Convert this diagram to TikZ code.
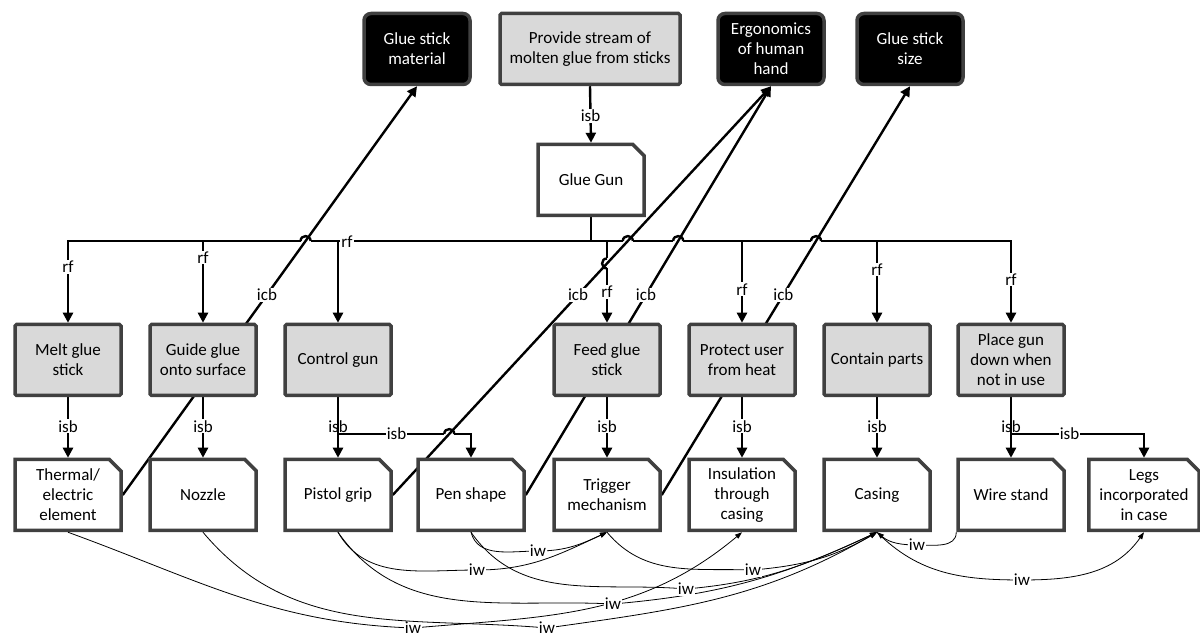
\documentclass[tikz,border=0pt]{standalone}
\usepackage{fontspec}
\setmainfont{Carlito}
\usetikzlibrary{arrows.meta,shapes.misc,backgrounds}
\definecolor{rahmen}{RGB}{64,64,64}
\definecolor{funktion}{RGB}{217,217,217}

\newcommand{\hoph}[1]{% Sprung auf waagrechter Linie
  \begin{scope}[shift={(#1)}]
    \fill[white] (-5,-2) rectangle (5,2);
    \draw[line width=2.4pt] (-5,0) .. controls (-5,6.5) and (5,6.5) .. (5,0);
  \end{scope}}
\newcommand{\hopv}[1]{% Sprung auf senkrechter Linie
  \begin{scope}[shift={(#1)}]
    \fill[white] (-2,-5) rectangle (2,5);
    \draw[line width=2.4pt] (0,5) .. controls (-6.5,5) and (-6.5,-5) .. (0,-5);
  \end{scope}}

\begin{document}
\begin{tikzpicture}[x=1pt, y=1pt,
    schrift/.style={font=\fontsize{17}{20}\selectfont},
    funkbox/.style={schrift, rectangle, draw=rahmen, fill=funktion, line width=3.5pt,
      rounded corners=1.5pt, minimum width=106pt, minimum height=71pt, align=center, inner sep=2pt},
    loesbox/.style={schrift, chamfered rectangle, chamfered rectangle corners=north east,
      chamfered rectangle xsep=8.5pt, draw=rahmen, fill=white, line width=3.5pt,
      minimum width=106pt, minimum height=71pt, align=center, inner sep=2pt},
    randbox/.style={schrift, rectangle, draw=rahmen, fill=black, text=white, line width=3.5pt,
      rounded corners=7pt, minimum width=106pt, minimum height=71pt, align=center, inner sep=2pt},
    etikett/.style={schrift, fill=white, inner sep=1pt},
    dick/.style={line width=2.4pt, -{Triangle[length=10pt,width=10pt]}},
    duenn/.style={line width=0.8pt, -{Triangle[length=7pt,width=5pt]}}]

\useasboundingbox (0,0) rectangle (1200,637);

% obere Reihe
\node[randbox] (mat) at (417,588) {Glue stick\\material};
\node[funkbox, minimum width=180pt] (prov) at (590,588) {Provide stream of\\molten glue from sticks};
\node[randbox] (ergo) at (771,588) {Ergonomics\\of human\\hand};
\node[randbox] (size) at (910,588) {Glue stick\\size};
\node[loesbox] (gun) at (591,457) {Glue Gun};

% Funktionen
\node[funkbox] (melt) at (68,277) {Melt glue\\stick};
\node[funkbox] (guide) at (203,277) {Guide glue\\onto surface};
\node[funkbox] (ctrl) at (338,277) {Control gun};
\node[funkbox] (feed) at (607,277) {Feed glue\\stick};
\node[funkbox] (prot) at (742,277) {Protect user\\from heat};
\node[funkbox] (cont) at (877,277) {Contain parts};
\node[funkbox] (place) at (1011,277) {Place gun\\down when\\not in use};

% Loesungen
\node[loesbox] (therm) at (68,142) {Thermal/\\electric\\element};
\node[loesbox] (nozz) at (203,142) {Nozzle};
\node[loesbox] (pist) at (338,142) {Pistol grip};
\node[loesbox] (pen) at (471,142) {Pen shape};
\node[loesbox] (trig) at (607,142) {Trigger\\mechanism};
\node[loesbox] (ins) at (742,142) {Insulation\\through\\casing};
\node[loesbox] (cas) at (877,142) {Casing};
\node[loesbox] (wire) at (1011,142) {Wire stand};
\node[loesbox] (legs) at (1144,142) {Legs\\incorporated\\in case};

\coordinate (bus) at (591,396);  % Sammelschiene
\coordinate (busl) at (0,396);  \coordinate (busr) at (1200,396);
\coordinate (isbl) at (0,203);  \coordinate (isbr) at (1200,203);

\begin{pgfonlayer}{background}
  \foreach \ziel/\wo/\dx in {melt/0.32/0pt, guide/0.2/0pt, ctrl/0.01/9pt, feed/0.62/0pt,
      prot/0.59/0pt, cont/0.35/0pt, place/0.47/0pt}
    \draw[dick] (gun.south) |- (\ziel.north |- bus) -- node[etikett, pos=\wo, xshift=\dx]{rf} (\ziel.north);  % rf

  \draw[dick] (prov.south) -- node[etikett, pos=0.52]{isb} (gun.north);
  \foreach \von/\nach in {melt/therm, guide/nozz, ctrl/pist, feed/trig, prot/ins, cont/cas, place/wire}
    \draw[dick] (\von.south) -- node[etikett, pos=0.48]{isb} (\nach.north);  % isb
  \draw[dick] (ctrl.south) |- node[etikett, pos=0.72]{isb} (pen.north |- isbl) -- (pen.north);
  \draw[dick] (place.south) |- node[etikett, pos=0.72]{isb} (legs.north |- isbl) -- (legs.north);

  % Spruenge
  \hoph{intersection of therm.east--mat.south and busl--busr}
  \hoph{intersection of pist.east--ergo.south and busl--busr}
  \hoph{intersection of pen.east--ergo.south and busl--busr}
  \hoph{intersection of trig.east--size.south and busl--busr}
  \hoph{intersection of pist.east--ergo.south and isbl--isbr}
  \hopv{intersection of pist.east--ergo.south and feed.north--feed.south}

  % icb
  \draw[dick] (therm.east) -- node[etikett, pos=0.49]{icb} (mat.south);
  \draw[dick] (pist.east) -- node[etikett, pos=0.49]{icb} (ergo.south);
  \draw[dick] (pen.east) -- node[etikett, pos=0.49]{icb} (ergo.south);
  \draw[dick] (trig.east) -- node[etikett, pos=0.49]{icb} (size.south);
\end{pgfonlayer}

% iw
\draw[duenn] (therm.south) to[out=-20,in=178] (413,9) node[etikett]{iw} to[out=5,in=-140] (ins.south);
\draw[duenn] (nozz.south) to[out=-50,in=175] (547,9) node[etikett]{iw} to[out=8,in=-150] (cas.south);
\draw[duenn] (pist.south) to[out=-60,in=180] (477,67) node[etikett]{iw} to[out=0,in=-155] (trig.south);
\draw[duenn] (pist.south) to[out=-55,in=177] (613,33) node[etikett]{iw} to[out=5,in=-155] (cas.south);
\draw[duenn] (pen.south) to[out=-75,in=180] (538,86) node[etikett]{iw} to[out=0,in=-155] (trig.south);
\draw[duenn] (pen.south) to[out=-55,in=175] (686,48) node[etikett]{iw} to[out=5,in=-155] (cas.south);
\draw[duenn] (trig.south) to[out=-50,in=178] (753,67) node[etikett]{iw} to[out=5,in=-150] (cas.south);
\draw[duenn] (wire.south west) to[out=-90,in=0] (917,92) node[etikett]{iw} to[out=180,in=-40] (cas.south);
\draw[duenn] (cas.south) to[out=-45,in=180] (1022,57) node[etikett]{iw} to[out=0,in=-125] (legs.south);

\end{tikzpicture}
\end{document}
